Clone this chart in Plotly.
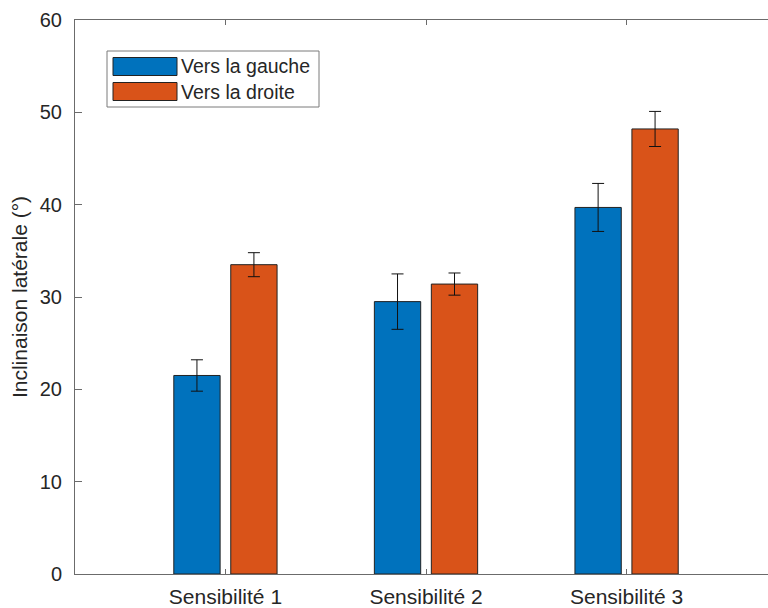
import plotly.graph_objects as go

categories = ["Sensibilité 1", "Sensibilité 2", "Sensibilité 3"]
series_names = ["Vers la gauche", "Vers la droite"]
left_values = [21.5, 29.5, 39.7]
left_errors = [1.7, 3.0, 2.6]
right_values = [33.5, 31.4, 48.2]
right_errors = [1.3, 1.2, 1.9]
y_ticks = [0, 10, 20, 30, 40, 50, 60]
colors = ["#0072BD", "#D95319"]

FONT = "Liberation Sans, Arial, Helvetica, sans-serif"
AXIS_COLOR = "#6b6b6b"
TEXT_COLOR = "#262626"

W, H = 768, 608
ML, MR, MT, MB = 75, 0, 20, 34
PW, PH = W - ML - MR, H - MT - MB

fig = go.Figure()
for name, vals, errs, col in [
    (series_names[0], left_values, left_errors, colors[0]),
    (series_names[1], right_values, right_errors, colors[1]),
]:
    fig.add_trace(go.Bar(
        x=categories, y=vals, name=name,
        marker=dict(color=col, line=dict(color="#222222", width=1)),
        error_y=dict(type="data", array=errs, visible=True,
                     color="#111111", thickness=1, width=6),
        showlegend=False,
    ))

# custom MATLAB-like legend (styling only), positions in pixels -> paper coords
def px(x): return (x - ML) / PW
def py(y): return 1 - (y - MT) / PH

shapes = [dict(type="rect", xref="paper", yref="paper",
               x0=px(107), x1=px(319), y0=py(107), y1=py(51),
               line=dict(color="#7a7a7a", width=1), fillcolor="white", layer="above")]
annotations = []
rows = [(57.5, 75.5), (82.5, 100.5)]
for (y0, y1), name, col in zip(rows, series_names, colors):
    shapes.append(dict(type="rect", xref="paper", yref="paper",
                       x0=px(113), x1=px(177), y0=py(y1), y1=py(y0),
                       line=dict(color="#222222", width=1), fillcolor=col, layer="above"))
    annotations.append(dict(xref="paper", yref="paper", x=px(179), y=py((y0 + y1) / 2),
                            text=name, showarrow=False, xanchor="left", yanchor="middle",
                            font=dict(family=FONT, size=19.5, color=TEXT_COLOR)))

fig.update_layout(
    width=W, height=H,
    margin=dict(l=ML, r=MR, t=MT, b=MB, autoexpand=False),
    paper_bgcolor="white", plot_bgcolor="white",
    barmode="group", bargap=0.432, bargroupgap=0.187,
    font=dict(family=FONT, color=TEXT_COLOR),
    shapes=shapes, annotations=annotations,
    xaxis=dict(
        range=[-0.75, 2.705], showline=True, linecolor=AXIS_COLOR, linewidth=1,
        mirror="ticks", ticks="inside", ticklen=5, tickcolor=AXIS_COLOR,
        showgrid=False, zeroline=False, automargin=False,
        tickfont=dict(family=FONT, size=21, color=TEXT_COLOR),
        ticklabelstandoff=4,
    ),
    yaxis=dict(
        range=[0, 60], tickvals=y_ticks, showline=True, linecolor=AXIS_COLOR, linewidth=1,
        mirror=False, ticks="inside", ticklen=7, tickcolor=AXIS_COLOR,
        showgrid=False, zeroline=False, automargin=False,
        tickfont=dict(family=FONT, size=20, color=TEXT_COLOR),
        ticklabelstandoff=8,
        title=dict(text="Inclinaison latérale (°)", font=dict(family=FONT, size=21, color=TEXT_COLOR),
                   standoff=6),
    ),
)

fig.write_html("out.html", config={"displayModeBar": False},
               post_script="document.body.style.margin='0';document.body.style.overflow='hidden';")
